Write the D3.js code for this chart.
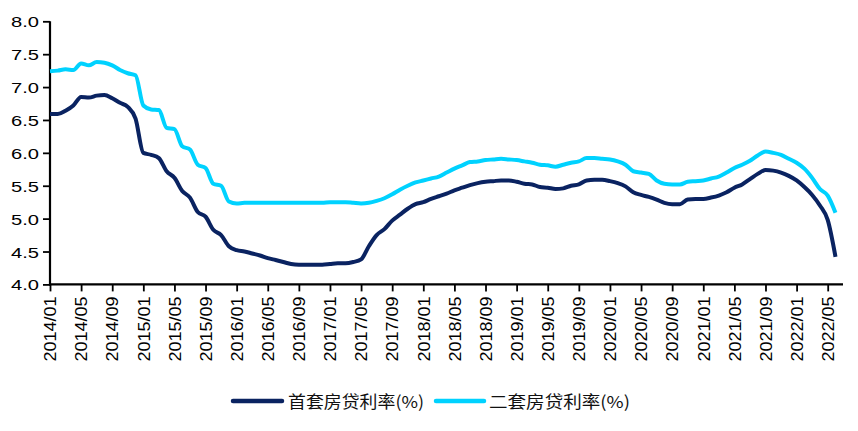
<!DOCTYPE html>
<html>
<head>
<meta charset="utf-8">
<script src="https://cdn.jsdelivr.net/npm/d3@7/dist/d3.min.js"></script>
<style>
  html, body { margin: 0; padding: 0; background: #fff; }
  svg { display: block; }
</style>
</head>
<body>
<svg id="chart" width="858" height="431"></svg>
<script>
// ---- Data ----
const startMonth = "2014/01";
const seriesNames = ["首套房贷利率(%)", "二套房贷利率(%)"];
const firstHome = [
  6.59, 6.59, 6.64, 6.72, 6.85, 6.84, 6.87, 6.88, 6.83, 6.76, 6.70, 6.52,
  6.00, 5.97, 5.92, 5.72, 5.62, 5.42, 5.32, 5.10, 5.03, 4.83, 4.75, 4.58,
  4.52, 4.50, 4.47, 4.44, 4.40, 4.37, 4.34, 4.31, 4.30, 4.30, 4.30, 4.30,
  4.31, 4.32, 4.32, 4.34, 4.38, 4.58, 4.75, 4.84, 4.97, 5.06, 5.15, 5.22,
  5.25, 5.30, 5.34, 5.38, 5.43, 5.47, 5.51, 5.54, 5.56, 5.57, 5.58, 5.58,
  5.56, 5.53, 5.52, 5.48, 5.47, 5.45, 5.46, 5.50, 5.52, 5.58, 5.59, 5.59,
  5.57, 5.54, 5.49, 5.40, 5.36, 5.33, 5.29, 5.24, 5.22, 5.22, 5.29, 5.30,
  5.30, 5.32, 5.35, 5.40, 5.47, 5.52, 5.60, 5.68, 5.74, 5.73, 5.70, 5.65,
  5.58, 5.48, 5.36, 5.20, 4.98, 4.42
];
const secondHome = [
  7.24, 7.25, 7.27, 7.26, 7.36, 7.33, 7.38, 7.37, 7.33, 7.26, 7.21, 7.18,
  6.72, 6.66, 6.65, 6.38, 6.36, 6.10, 6.05, 5.82, 5.77, 5.53, 5.50, 5.26,
  5.23, 5.24, 5.24, 5.24, 5.24, 5.24, 5.24, 5.24, 5.24, 5.24, 5.24, 5.24,
  5.25, 5.25, 5.25, 5.24, 5.23, 5.24, 5.27, 5.31, 5.37, 5.44, 5.50, 5.55,
  5.58, 5.61, 5.64, 5.70, 5.76, 5.81, 5.86, 5.87, 5.89, 5.90, 5.91, 5.90,
  5.89, 5.87, 5.85, 5.82, 5.81, 5.79, 5.82, 5.85, 5.87, 5.92, 5.92, 5.91,
  5.90, 5.87, 5.82, 5.72, 5.70, 5.68, 5.58, 5.53, 5.52, 5.52, 5.56, 5.57,
  5.58, 5.61, 5.64, 5.70, 5.77, 5.82, 5.88, 5.96, 6.02, 6.00, 5.97, 5.91,
  5.85, 5.76, 5.62, 5.45, 5.35, 5.09
];
const xTickLabels = [
  "2014/01","2014/05","2014/09","2015/01","2015/05","2015/09","2016/01",
  "2016/05","2016/09","2017/01","2017/05","2017/09","2018/01","2018/05",
  "2018/09","2019/01","2019/05","2019/09","2020/01","2020/05","2020/09",
  "2021/01","2021/05","2021/09","2022/01","2022/05"
];
const yTickValues = [4.0, 4.5, 5.0, 5.5, 6.0, 6.5, 7.0, 7.5, 8.0];
const colors = ["#0A2361", "#00D2FF"];

// ---- Categories (months) ----
const fmt = d3.timeFormat("%Y/%m");
const parse = d3.timeParse("%Y/%m");
const months = d3.timeMonth.range(parse(startMonth), d3.timeMonth.offset(parse(startMonth), firstHome.length)).map(fmt);

// ---- Scales ----
const svg = d3.select("#chart");
const x = d3.scaleLinear().domain([0, 100]).range([50, 827.7]);
const y = d3.scaleLinear().domain([4, 8]).range([284.4, 21.3]);
const xAxisEnd = 843;

// ---- Axes ----
const yAxis = svg.append("g").attr("transform", "translate(50,0)")
  .call(d3.axisLeft(y).tickValues(yTickValues).tickFormat(d3.format(".1f")).tickSize(7).tickSizeOuter(0));
yAxis.select(".domain").attr("stroke", "#000").attr("stroke-width", 2.2)
  .attr("d", `M0,${y(8)}V${y(4) + 1}`);
yAxis.selectAll(".tick line").attr("stroke", "#000").attr("stroke-width", 1.8);
yAxis.selectAll(".tick text")
  .attr("x", -11).attr("dy", "0.36em")
  .attr("fill", "#000")
  .attr("font-family", "Liberation Sans, Arial, sans-serif")
  .attr("font-size", 15.5)
  .attr("textLength", 28).attr("lengthAdjust", "spacingAndGlyphs");
yAxis.attr("font-family", null).attr("font-size", null);

const tickIdx = xTickLabels.map(l => months.indexOf(l));
const xAxis = svg.append("g").attr("transform", `translate(0,${y(4)})`)
  .call(d3.axisBottom(x).tickValues(tickIdx).tickFormat(i => months[i]).tickSize(7).tickSizeOuter(0));
xAxis.select(".domain").attr("stroke", "#000").attr("stroke-width", 2.2)
  .attr("d", `M49,0H${xAxisEnd}`);
xAxis.selectAll(".tick line").attr("stroke", "#000").attr("stroke-width", 1.8);
xAxis.selectAll(".tick text")
  .attr("transform", "rotate(-90)")
  .attr("text-anchor", "end")
  .attr("x", -12).attr("y", 0).attr("dy", "0.36em").attr("dx", 0)
  .attr("fill", "#000")
  .attr("font-family", "Liberation Sans, Arial, sans-serif")
  .attr("font-size", 16)
  .attr("textLength", 65).attr("lengthAdjust", "spacingAndGlyphs");
xAxis.attr("font-family", null).attr("font-size", null);

// ---- Lines ----
const line = d3.line().x((d, i) => x(i)).y(d => y(d)).curve(d3.curveMonotoneX);
[firstHome, secondHome].forEach((s, k) => {
  svg.append("path").datum(s)
    .attr("fill", "none")
    .attr("stroke", colors[k])
    .attr("stroke-width", 4)
    .attr("stroke-linejoin", "round")
    .attr("stroke-linecap", "butt")
    .attr("d", line);
});
// draw first-home on top of second where they overlap (none), keep order as is

// ---- Legend ----
const legendItems = [
  { name: seriesNames[0], color: colors[0], x0: 233, x1: 282, tx: 288, tw: 136 },
  { name: seriesNames[1], color: colors[1], x0: 436, x1: 484, tx: 489, tw: 141 }
];
const lg = svg.append("g");
legendItems.forEach(it => {
  lg.append("line").attr("x1", it.x0).attr("x2", it.x1).attr("y1", 401).attr("y2", 401)
    .attr("stroke", it.color).attr("stroke-width", 4.5).attr("stroke-linecap", "round");
  lg.append("text").attr("x", it.tx).attr("y", 402).attr("dy", "0.36em")
    .attr("font-family", "Noto Sans CJK SC, sans-serif")
    .attr("font-size", 16.5).attr("fill", "#111")
    .attr("textLength", it.tw).attr("lengthAdjust", "spacingAndGlyphs")
    .text(it.name);
});
</script>
</body>
</html>
